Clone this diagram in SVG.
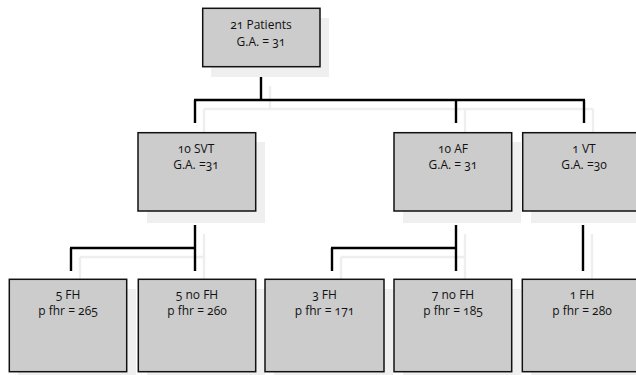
<svg xmlns="http://www.w3.org/2000/svg" width="636" height="375" viewBox="0 0 636 375">
<style>
.shadow{fill:#efefef;stroke:none}
.box{fill:#cccccc;stroke:#111;stroke-width:1.5}
.t{font-family:"Open Sans","Lato","DejaVu Sans",sans-serif;font-size:12px;fill:#111;text-anchor:middle;font-variant-numeric:oldstyle-nums}
.ln{fill:none;stroke:#000;stroke-width:2.4;stroke-linecap:butt}
.lns{fill:none;stroke:#eeeeee;stroke-width:2.4}
</style>
<rect width="636" height="375" fill="#fff"/>
<g id="connector-shadows">
<path class="lns" d="M270 86V109M204 109H593M204 109V132M465 109V132M593 109V132"/>
<path class="lns" d="M204 234V280M80 257H204M80 257V280M465 234V280M341 257H465M341 257V280M592 234V280"/>
</g>
<g id="connectors">
<path class="ln" d="M261 77V100M194 100H585M195 100V123M456 100V123M584 100V123"/>
<path class="ln" d="M195 225V271M70 248H196M71 248V271M456 225V271M331 248H457M332 248V271M583 225V271"/>
</g>
<g id="n-root">
<rect class="shadow" x="211" y="18" width="118" height="59"/>
<rect class="box" x="202.7" y="8.3" width="117.3" height="58.4"/>
<text class="t" x="261" y="29">21 Patients</text>
<text class="t" x="261" y="46">G.A. = 31</text>
</g>
<g id="n-svt">
<rect class="shadow" x="147" y="142" width="118" height="81"/>
<rect class="box" x="138" y="132.7" width="117.7" height="78.3"/>
<text class="t" x="196" y="153">10 SVT</text>
<text class="t" x="196" y="169">G.A. =31</text>
</g>
<g id="n-af">
<rect class="shadow" x="403" y="142" width="118" height="81"/>
<rect class="box" x="394" y="132.7" width="117.7" height="78.3"/>
<text class="t" x="453" y="153">10 AF</text>
<text class="t" x="453" y="169">G.A. = 31</text>
</g>
<g id="n-vt">
<rect class="shadow" x="531" y="142" width="118" height="81"/>
<rect class="box" x="522.7" y="132.7" width="118" height="78.3"/>
<text class="t" x="584" y="153">1 VT</text>
<text class="t" x="584" y="169">G.A. =30</text>
</g>
<g id="n-5fh">
<rect class="shadow" x="18" y="289" width="118" height="92"/>
<rect class="box" x="9.3" y="279.3" width="117.4" height="92.4"/>
<text class="t" x="68" y="299">5 FH</text>
<text class="t" x="68" y="315">p fhr = 265</text>
</g>
<g id="n-5nofh">
<rect class="shadow" x="147" y="289" width="118" height="92"/>
<rect class="box" x="138.3" y="279.3" width="117.4" height="92.4"/>
<text class="t" x="197" y="299">5 no FH</text>
<text class="t" x="197" y="315">p fhr = 260</text>
</g>
<g id="n-3fh">
<rect class="shadow" x="274" y="289" width="119" height="92"/>
<rect class="box" x="265" y="279.3" width="119" height="92.4"/>
<text class="t" x="324.5" y="299">3 FH</text>
<text class="t" x="324.5" y="315">p fhr = 171</text>
</g>
<g id="n-7nofh">
<rect class="shadow" x="403" y="289" width="118" height="92"/>
<rect class="box" x="394" y="279.3" width="117.7" height="92.4"/>
<text class="t" x="453" y="299">7 no FH</text>
<text class="t" x="453" y="315">p fhr = 185</text>
</g>
<g id="n-1fh">
<rect class="shadow" x="531" y="289" width="118" height="92"/>
<rect class="box" x="522.3" y="279.3" width="118" height="92.4"/>
<text class="t" x="582" y="299">1 FH</text>
<text class="t" x="582" y="315">p fhr = 280</text>
</g>
</svg>
